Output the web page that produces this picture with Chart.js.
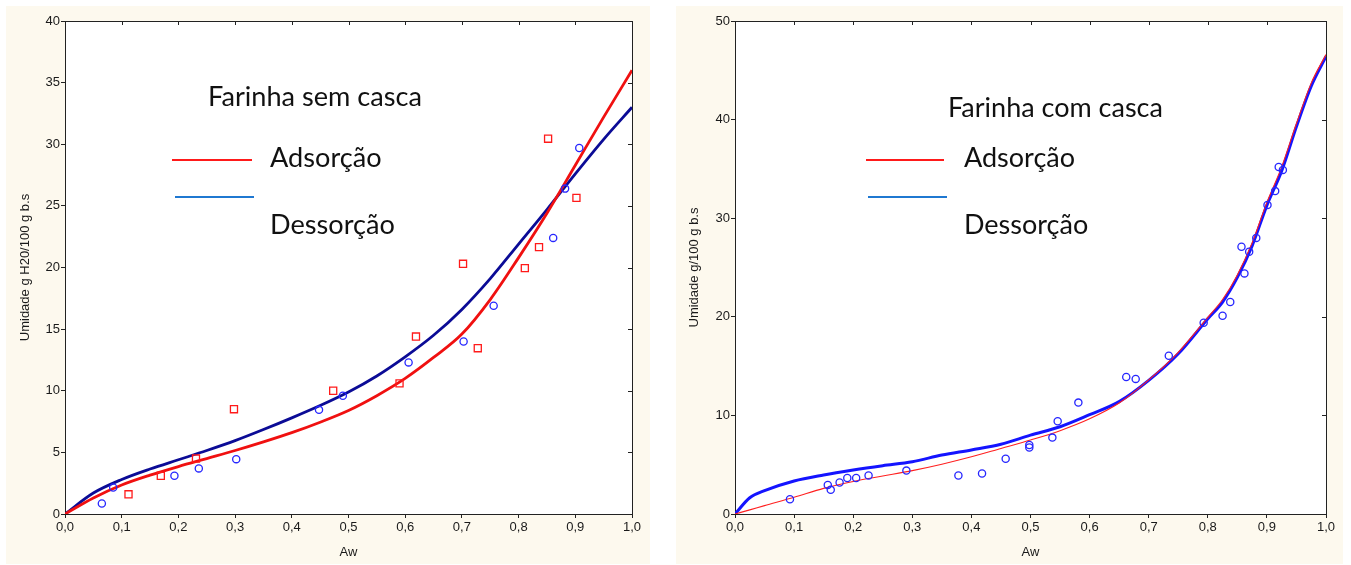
<!DOCTYPE html>
<html lang="pt">
<head>
<meta charset="utf-8">
<title>Isotermas de sorção</title>
<script src="https://cdn.jsdelivr.net/npm/chart.js@4.4.1/dist/chart.umd.min.js"></script>
<style>
  html, body { margin: 0; padding: 0; background: #ffffff; }
  body { width: 1351px; height: 565px; position: relative; overflow: hidden; }
  .panel { position: absolute; background: #fdf9ee; }
  #p1 { left: 6px; top: 6px; width: 644px; height: 558px; }
  #p2 { left: 676px; top: 6px; width: 667px; height: 558px; }
  canvas { display: block; }
</style>
</head>
<body>
<div class="panel" id="p1"><canvas id="c1" width="644" height="558"></canvas></div>
<div class="panel" id="p2"><canvas id="c2" width="667" height="558"></canvas></div>
<script>
// ---- Farinha sem casca ----
const awGridSem = [0, 0.05, 0.10, 0.15, 0.20, 0.25, 0.30, 0.35, 0.40, 0.45, 0.50,
                   0.55, 0.60, 0.65, 0.70, 0.75, 0.80, 0.85, 0.90, 0.95, 1.00];
const adsCurveSem = [0, 1.3, 2.35, 3.15, 3.85, 4.5, 5.15, 5.85, 6.6, 7.45, 8.4,
                     9.6, 11.0, 12.7, 14.6, 17.4, 20.8, 24.4, 28.3, 32.2, 36.0];
const desCurveSem = [0, 1.7, 2.8, 3.65, 4.4, 5.15, 5.95, 6.85, 7.8, 8.8, 9.9,
                     11.2, 12.75, 14.5, 16.6, 19.1, 21.9, 24.7, 27.6, 30.4, 33.0];
const adsAwSem  = [0.112, 0.169, 0.231, 0.298, 0.473, 0.590, 0.619, 0.702, 0.728, 0.811, 0.836, 0.852, 0.902];
const adsUmSem  = [1.6, 3.1, 4.5, 8.5, 10.0, 10.6, 14.4, 20.3, 13.45, 19.95, 21.65, 30.45, 25.65];
const desAwSem  = [0.065, 0.085, 0.193, 0.236, 0.302, 0.448, 0.490, 0.606, 0.703, 0.756, 0.861, 0.882, 0.907];
const desUmSem  = [0.85, 2.15, 3.1, 3.7, 4.45, 8.45, 9.6, 12.3, 14.0, 16.9, 22.4, 26.4, 29.7];

// ---- Farinha com casca ----
const awGridCom = [0, 0.025, 0.05, 0.10, 0.15, 0.20, 0.25, 0.30, 0.35, 0.40, 0.45, 0.50,
                   0.55, 0.60, 0.65, 0.70, 0.75, 0.80, 0.825, 0.85, 0.875, 0.90, 0.925, 0.95, 0.975, 1.00];
const adsCurveCom = [0, 0.42, 0.85, 1.69, 2.6, 3.3, 3.85, 4.4, 5.05, 5.8, 6.65, 7.5,
                     8.45, 9.65, 11.25, 13.6, 16.4, 19.95, 21.75, 24.25, 27.5, 31.6, 35.2, 39.6, 43.7, 46.6];
const desCurveCom = [0, 1.65, 2.37, 3.35, 3.96, 4.46, 4.9, 5.3, 5.98, 6.5, 7.07, 8.0,
                     8.85, 10.07, 11.4, 13.55, 16.25, 19.8, 21.5, 24.0, 27.2, 31.3, 34.8, 39.3, 43.4, 46.4];
const awPtsCom = [0.093, 0.157, 0.162, 0.177, 0.190, 0.205, 0.226, 0.290, 0.378, 0.418, 0.458,
                  0.498, 0.498, 0.537, 0.546, 0.581, 0.662, 0.678, 0.734, 0.793, 0.825, 0.838,
                  0.857, 0.862, 0.870, 0.882, 0.901, 0.914, 0.920, 0.927];
const umPtsCom = [1.5, 2.95, 2.45, 3.2, 3.65, 3.65, 3.9, 4.4, 3.9, 4.1, 5.6,
                  7.0, 6.75, 7.75, 9.4, 11.3, 13.9, 13.7, 16.05, 19.4, 20.1, 21.5,
                  27.1, 24.4, 26.6, 28.0, 31.35, 32.75, 35.2, 34.9];

// ---- tick labels ----
const xTickStep = 0.1;
const yTickStepSem = 5, yMaxSem = 40;
const yTickStepCom = 10, yMaxCom = 50;

const pairs = (xs, ys) => xs.map((x, i) => ({ x: x, y: ys[i] }));
const fmtComma = v => Number(v).toFixed(1).replace('.', ',');

// White plot area, frame on top/right with inward ticks, and the text block inside the plot.
const framePlugin = {
  id: 'frame',
  beforeDraw(chart) {
    const { ctx, chartArea: a } = chart;
    ctx.save();
    ctx.fillStyle = '#ffffff';
    ctx.fillRect(a.left, a.top, a.right - a.left, a.bottom - a.top);
    ctx.restore();
  },
  afterDraw(chart, args, opts) {
    const { ctx, chartArea: a, scales } = chart;
    ctx.save();
    ctx.strokeStyle = '#222';
    ctx.lineWidth = 1;
    ctx.beginPath();
    ctx.moveTo(Math.round(a.left) + 0.5, Math.round(a.top) + 0.5);
    ctx.lineTo(Math.round(a.right) + 0.5, Math.round(a.top) + 0.5);
    ctx.lineTo(Math.round(a.right) + 0.5, Math.round(a.bottom) + 0.5);
    ctx.stroke();
    ctx.beginPath();
    scales.x.ticks.forEach(t => {
      const px = Math.round(scales.x.getPixelForValue(t.value)) + 0.5;
      ctx.moveTo(px, Math.round(a.top));
      ctx.lineTo(px, Math.round(a.top) + 4);
    });
    scales.y.ticks.forEach(t => {
      const py = Math.round(scales.y.getPixelForValue(t.value)) + 0.5;
      ctx.moveTo(Math.round(a.right), py);
      ctx.lineTo(Math.round(a.right) - 4, py);
    });
    ctx.stroke();

    // title and key
    const fam = '"Lato", "Open Sans", sans-serif';
    ctx.fillStyle = '#111';
    ctx.textBaseline = 'alphabetic';
    ctx.textAlign = 'left';
    let size = 26;
    ctx.font = size + 'px ' + fam;
    size = size * opts.titleWidth / ctx.measureText(opts.title).width;
    ctx.font = size.toFixed(2) + 'px ' + fam;
    ctx.fillText(opts.title, opts.titleX, opts.titleY);
    ctx.fillText('Adsorção', opts.keyTextX, opts.adsY);
    ctx.fillText('Dessorção', opts.keyTextX, opts.desY);

    ctx.lineWidth = 2.2;
    ctx.strokeStyle = '#ff1a1a';
    ctx.beginPath();
    ctx.moveTo(opts.redLine[0], opts.redLine[2]);
    ctx.lineTo(opts.redLine[1], opts.redLine[2]);
    ctx.stroke();
    ctx.strokeStyle = '#1f78d1';
    ctx.beginPath();
    ctx.moveTo(opts.blueLine[0], opts.blueLine[2]);
    ctx.lineTo(opts.blueLine[1], opts.blueLine[2]);
    ctx.stroke();
    ctx.restore();
  }
};

const tickFont = { family: '"Liberation Sans", Arial, sans-serif', size: 13 };
const titleFont = { family: '"Liberation Sans", Arial, sans-serif', size: 13 };

function makeScales(yMax, yStep, yTitle, titlePadTop) {
  return {
    x: {
      type: 'linear', min: 0, max: 1,
      afterFit(s) { s.height = 50; },
      ticks: { stepSize: xTickStep, autoSkip: false, maxRotation: 0, padding: 2,
               color: '#1a1a1a', font: tickFont, callback: v => fmtComma(v) },
      grid: { display: true, drawOnChartArea: false, drawTicks: true, tickLength: 4, color: '#222' },
      border: { display: true, color: '#222', width: 1 },
      title: { display: true, text: 'Aw', color: '#1a1a1a', font: titleFont, padding: { top: 0, bottom: 4 } }
    },
    y: {
      type: 'linear', min: 0, max: yMax,
      afterFit(s) { s.width = 59; },
      ticks: { stepSize: yStep, padding: 1, color: '#1a1a1a', font: tickFont },
      grid: { display: true, drawOnChartArea: false, drawTicks: true, tickLength: 4, color: '#222' },
      border: { display: true, color: '#222', width: 1 },
      title: { display: true, text: yTitle, color: '#1a1a1a', font: titleFont, padding: { top: titlePadTop, bottom: 0 } }
    }
  };
}

const commonOpts = {
  responsive: false,
  animation: false,
  devicePixelRatio: 1,
  plugins: { legend: { display: false }, tooltip: { enabled: false } }
};

// The first dataset in each list is drawn on top.
new Chart(document.getElementById('c1'), {
  type: 'scatter',
  data: {
    datasets: [
      { label: 'Adsorção (exp.)', data: pairs(adsAwSem, adsUmSem), pointStyle: 'rect', pointRadius: 5,
        borderColor: '#ff1a1a', backgroundColor: 'rgba(0,0,0,0)', pointBorderWidth: 1.3 },
      { label: 'Dessorção (exp.)', data: pairs(desAwSem, desUmSem), pointStyle: 'circle', pointRadius: 3.6,
        borderColor: '#2626ff', backgroundColor: 'rgba(0,0,0,0)', pointBorderWidth: 1.3 },
      { label: 'Adsorção', type: 'line', data: pairs(awGridSem, adsCurveSem), borderColor: '#f01010',
        borderWidth: 2.8, pointRadius: 0, fill: false, cubicInterpolationMode: 'monotone' },
      { label: 'Dessorção', type: 'line', data: pairs(awGridSem, desCurveSem), borderColor: '#0b0b96',
        borderWidth: 2.8, pointRadius: 0, fill: false, cubicInterpolationMode: 'monotone' }
    ]
  },
  options: Object.assign({}, commonOpts, {
    layout: { padding: { top: 15, right: 18, left: 0, bottom: 0 } },
    scales: makeScales(yMaxSem, yTickStepSem, 'Umidade g H20/100 g b.s', 12),
    plugins: Object.assign({}, commonOpts.plugins, {
      frame: { title: 'Farinha sem casca', titleWidth: 214, titleX: 202, titleY: 100,
               keyTextX: 264, adsY: 161, desY: 228,
               redLine: [166, 246, 154], blueLine: [169, 248, 191] }
    })
  }),
  plugins: [framePlugin]
});

new Chart(document.getElementById('c2'), {
  type: 'scatter',
  data: {
    datasets: [
      { label: 'Experimental', data: pairs(awPtsCom, umPtsCom), pointStyle: 'circle', pointRadius: 3.6,
        borderColor: '#2626ff', backgroundColor: 'rgba(0,0,0,0)', pointBorderWidth: 1.3 },
      { label: 'Adsorção', type: 'line', data: pairs(awGridCom, adsCurveCom), borderColor: '#ff2020',
        borderWidth: 1.1, pointRadius: 0, fill: false, cubicInterpolationMode: 'monotone' },
      { label: 'Dessorção', type: 'line', data: pairs(awGridCom, desCurveCom), borderColor: '#1414ff',
        borderWidth: 3, pointRadius: 0, fill: false, cubicInterpolationMode: 'monotone' }
    ]
  },
  options: Object.assign({}, commonOpts, {
    layout: { padding: { top: 15, right: 17, left: 0, bottom: 0 } },
    scales: makeScales(yMaxCom, yTickStepCom, 'Umidade g/100 g b.s', 11),
    plugins: Object.assign({}, commonOpts.plugins, {
      frame: { title: 'Farinha com casca', titleWidth: 215, titleX: 272, titleY: 111,
               keyTextX: 288, adsY: 161, desY: 228,
               redLine: [190, 268, 154], blueLine: [192, 271, 191] }
    })
  }),
  plugins: [framePlugin]
});
</script>
</body>
</html>
